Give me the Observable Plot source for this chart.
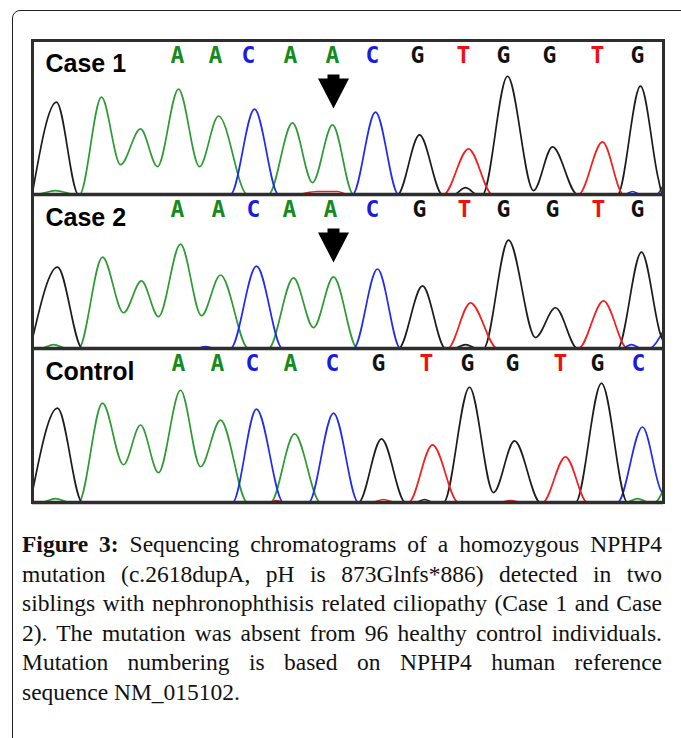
<!DOCTYPE html>
<html>
<head>
<meta charset="utf-8">
<script src="https://cdn.jsdelivr.net/npm/d3@7"></script>
<script src="https://cdn.jsdelivr.net/npm/@observablehq/plot@0.6"></script>
<style>
  html, body { margin: 0; padding: 0; background: #fff; width: 681px; height: 738px; overflow: hidden; }
  #outer { position: absolute; left: 12px; top: 10px; width: 720px; height: 780px; border: 1.5px solid #222; border-radius: 8px; box-sizing: border-box; }
  #chart { position: absolute; left: 0; top: 0; }
  #caption { position: absolute; left: 22px; top: 530px; width: 640px; font-family: "Liberation Serif", "Times New Roman", serif; font-size: 23.5px; line-height: 29.6px; color: #111; }
  #caption .l { text-align: justify; text-align-last: justify; white-space: nowrap; }
  #caption .last { text-align: left; }
  #caption b { font-weight: bold; }
</style>
</head>
<body>
<div id="outer"></div>
<div id="chart"></div>
<div id="caption">
  <div class="l"><b>Figure 3:</b> Sequencing chromatograms of a homozygous NPHP4</div>
  <div class="l">mutation (c.2618dupA, pH is 873Glnfs*886) detected in two</div>
  <div class="l">siblings with nephronophthisis related ciliopathy (Case 1 and Case</div>
  <div class="l">2). The mutation was absent from 96 healthy control individuals.</div>
  <div class="l">Mutation numbering is based on NPHP4 human reference</div>
  <div class="last">sequence NM_015102.</div>
</div>
<script>
// ---- Data: panels, base calls, and trace samples [scan, signal] ----
const panels = ["Case 1", "Case 2", "Control"];

const case1Calls = ["A","A","C","A","A","C","G","T","G","G","T","G"];
const case1CallScans = [145,183,216,258,300,340,385,431,471,517,565,605];
const case2Calls = ["A","A","C","A","A","C","G","T","G","G","T","G"];
const case2CallScans = [145,186,221,257,298,340,387,432,471,520,566,605];
const controlCalls = ["A","A","C","A","C","G","T","G","G","T","G","C"];
const controlCallScans = [146,185,220,258,300,346,394,435,480,528,565,606];

const mutationPanels = ["Case 1", "Case 2"];
const mutationScans = [301, 301];

// Case 1 traces
const case1G = [[0,2],[24,93],[46,0],[365,0],[387,60],[410,0],[421,0],[433,7],[445,0],[450,0],[475,119],[501,4],[520,48],[545,0],[585,0],[608,109],[626,15],[630,0],[631,0]];
const case1A = [[0,0],[3,0],[23,4],[43,0],[47,0],[69,98],[88,30],[108,66],[125,28],[146,106],[167,28],[186,79],[215,0],[236,0],[260,72],[280,12],[300,70],[321,0],[631,0]];
const case1C = [[0,0],[198,0],[222,86],[246,0],[320,0],[343,83],[366,0],[592,0],[600,3],[608,0],[624,0],[631,10]];
const case1T = [[0,0],[262,0],[285,3],[305,3],[315,0],[411,0],[436,46],[460,0],[546,0],[570,53],[591,0],[631,0]];

// Case 2 traces
const case2G = [[0,10],[25,82],[50,0],[366,0],[390,63],[413,0],[421,0],[433,4],[445,0],[451,0],[476,109],[503,11],[523,41],[545,0],[585,0],[609,97],[628,14],[631,6]];
const case2A = [[0,0],[8,0],[21,4],[35,0],[46,0],[70,92],[91,36],[109,68],[126,32],[148,105],[169,33],[188,74],[216,0],[236,0],[261,71],[281,21],[301,72],[325,0],[631,0]];
const case2C = [[0,0],[163,0],[173,2],[183,0],[198,0],[224,83],[250,0],[321,0],[345,80],[368,0],[589,0],[599,4],[609,0],[616,0],[631,18]];
const case2T = [[0,0],[415,0],[438,46],[465,0],[546,0],[571,48],[595,0],[631,0]];

// Control traces
const controlG = [[0,11],[25,95],[50,0],[326,0],[349,64],[373,0],[383,0],[392,3],[401,0],[411,0],[437,116],[461,10],[482,62],[508,0],[543,0],[569,120],[595,0],[631,0]];
const controlA = [[0,0],[8,0],[23,4],[38,0],[46,0],[70,100],[91,38],[108,78],[126,30],[148,113],[168,36],[188,83],[215,0],[238,0],[262,69],[288,0],[593,0],[605,4],[617,0],[622,0],[631,13]];
const controlC = [[0,0],[200,0],[224,94],[251,0],[276,0],[301,90],[326,0],[585,0],[610,76],[628,13],[631,8]];
const controlT = [[0,0],[236,0],[244,2],[252,0],[339,0],[351,3],[363,0],[376,0],[400,58],[426,0],[466,0],[478,2],[490,0],[510,0],[533,46],[555,0],[631,0]];

const bases = ["A","C","G","T"];
const baseColors = ["#2e9a34", "#1f2bf2", "#1c1c1c", "#f21f1f"];
const letterColors = ["#178a1f", "#1a1ae0", "#111111", "#ee1111"];

// ---- Build tables for the library ----
const traceSets = {
  "Case 1": {A: case1A, C: case1C, G: case1G, T: case1T},
  "Case 2": {A: case2A, C: case2C, G: case2G, T: case2T},
  "Control": {A: controlA, C: controlC, G: controlG, T: controlT}
};
const traces = [];
for (const p of panels) for (const b of bases)
  for (const [scan, signal] of traceSets[p][b]) traces.push({panel: p, base: b, scan, signal});

const calls = [];
[[case1Calls, case1CallScans, "Case 1"], [case2Calls, case2CallScans, "Case 2"], [controlCalls, controlCallScans, "Control"]]
  .forEach(([c, s, p]) => c.forEach((b, i) => calls.push({panel: p, base: b, scan: s[i]})));

const arrows = mutationPanels.map((p, i) => ({panel: p, scan: mutationScans[i]}));

const arrowSymbol = {
  draw(ctx) {
    ctx.moveTo(-6, -17); ctx.lineTo(6, -17); ctx.lineTo(6, -13);
    ctx.lineTo(15.5, -13); ctx.lineTo(0, 17); ctx.lineTo(-15.5, -13);
    ctx.lineTo(-6, -13); ctx.closePath();
  }
};

const plot = Plot.plot({
  width: 681,
  height: 510,
  marginLeft: 32,
  marginRight: 18,
  marginTop: 39,
  marginBottom: 7,
  style: {background: "transparent", overflow: "visible"},
  x: {domain: [0, 631], axis: null},
  y: {domain: [0, 155], axis: null},
  fy: {domain: panels, padding: 0, axis: null},
  color: {domain: bases, range: baseColors},
  marks: [
    Plot.line(traces, {x: "scan", y: "signal", fy: "panel", stroke: "base", z: "base", curve: "monotone-x", strokeWidth: 1.7, clip: true}),
    Plot.ruleY([0], {stroke: "#2a2a2a", strokeWidth: 3.5}),
    Plot.frame({stroke: "#2e2e2e", strokeWidth: 3}),
    Plot.text(calls, {x: "scan", fy: "panel", text: "base", frameAnchor: "top", lineAnchor: "middle", dy: 15,
      fill: d => letterColors[bases.indexOf(d.base)],
      fontFamily: "DejaVu Sans Mono", fontWeight: "bold", fontSize: 23}),
    Plot.text(panels, {fy: d => d, text: d => d, frameAnchor: "top-left", lineAnchor: "middle", dx: 13, dy: 23, textAnchor: "start",
      fill: "#000", fontFamily: "Liberation Sans, Arial, sans-serif", fontWeight: "bold", fontSize: 25}),
    Plot.dot(arrows, {x: "scan", fy: "panel", frameAnchor: "top", dy: 51, symbol: arrowSymbol, r: 10, fill: "#000", stroke: "none"})
  ]
});
document.getElementById("chart").appendChild(plot);
</script>
</body>
</html>
